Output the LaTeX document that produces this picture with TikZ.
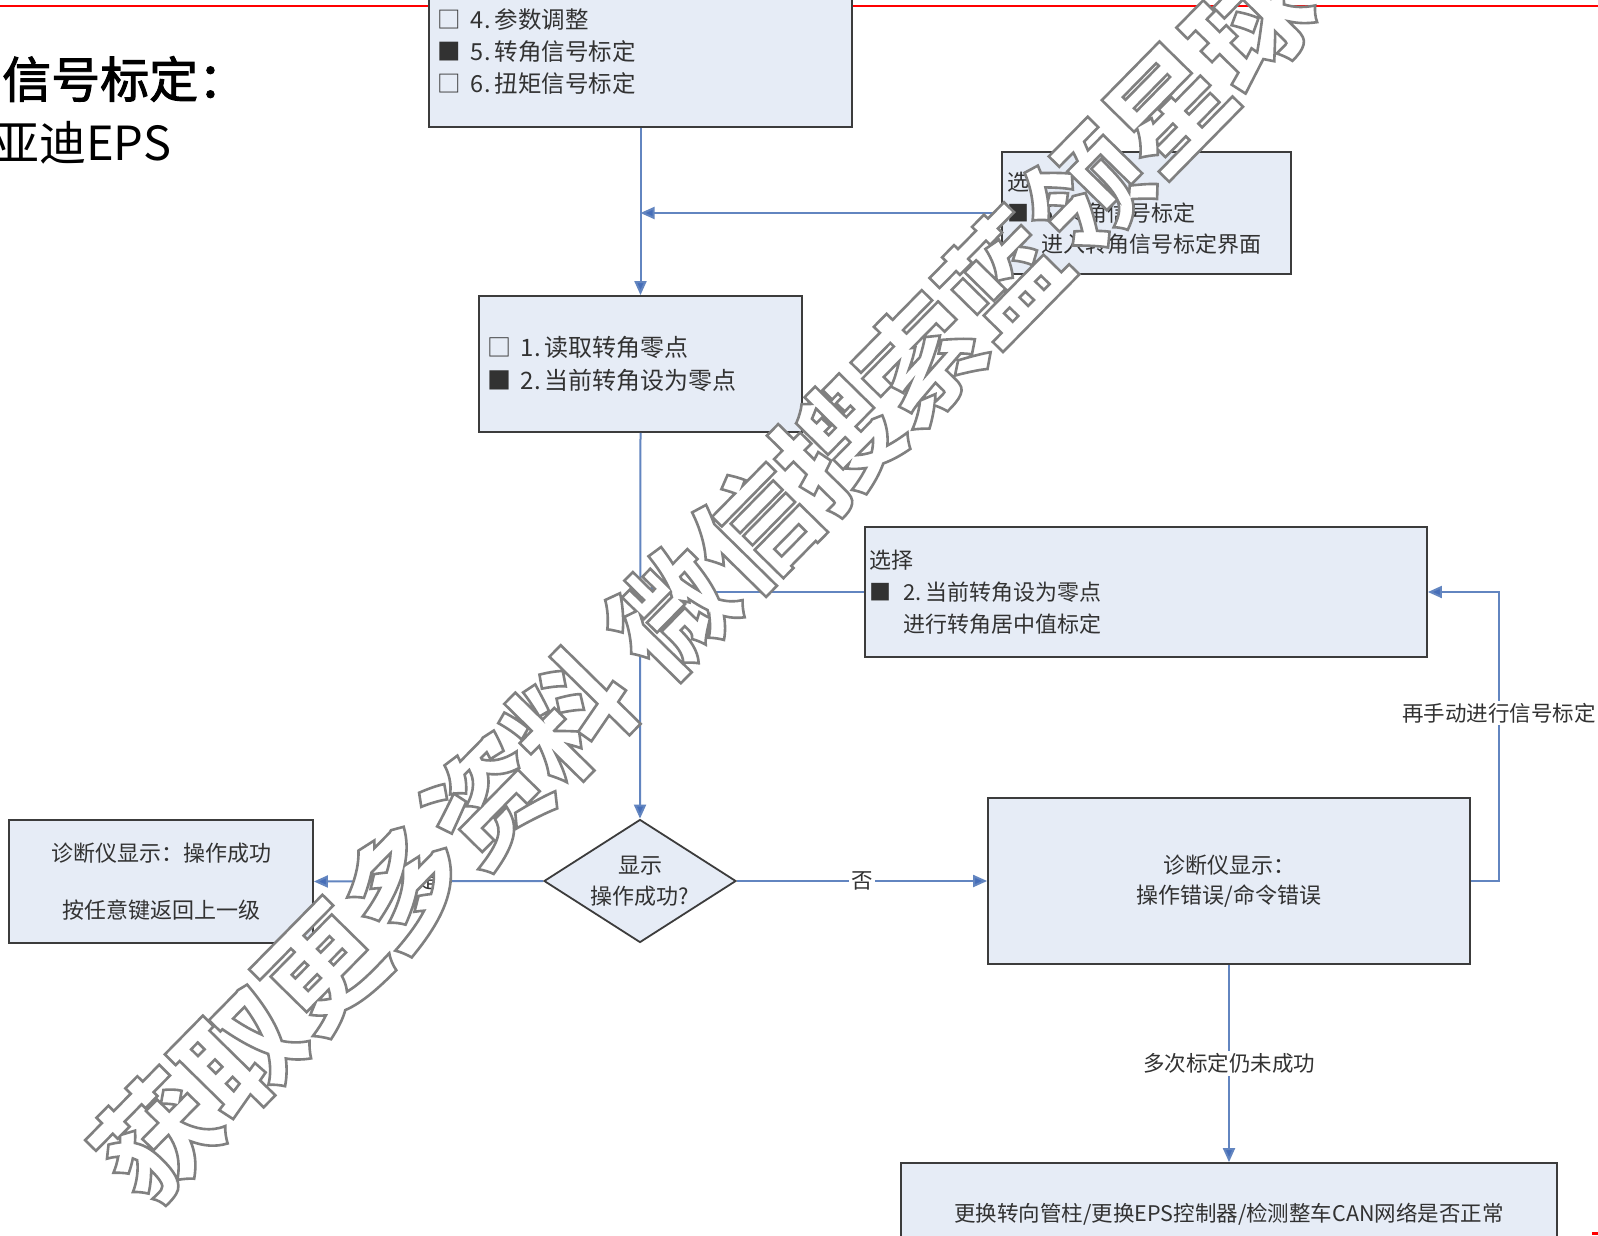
\documentclass[tikz,border=0pt]{standalone}
\usepackage{fontspec}
\setmainfont{Noto Sans CJK SC}
\newfontfamily\titlefont{Noto Sans CJK SC}[FakeBold=2]
\newfontfamily\titlefontb{Noto Sans CJK SC}
\usetikzlibrary{arrows.meta,shapes.geometric}
\definecolor{boxfill}{RGB}{230,236,246}
\definecolor{boxborder}{RGB}{60,60,60}
\definecolor{linec}{RGB}{98,133,192}
\definecolor{tipc}{RGB}{70,110,185}
\definecolor{txt}{RGB}{50,50,50}
\newcommand\bx[1]{\makebox[34pt][l]{#1}}
\newcommand\outlinetext[1]{\special{pdf:literal direct 2 Tr 2.6 w 0.5 G}#1}
\tikzset{
  box/.style={draw=boxborder, line width=1.8pt, fill=boxfill, text=txt, inner sep=0pt},
  conn/.style={draw=linec, line width=2pt, -{Triangle[length=14pt,width=12pt,fill=tipc]}},
  lbl/.style={fill=white, text=txt, font=\fontsize{21.5}{26}\selectfont, inner sep=2pt},
}
\begin{document}
\begin{tikzpicture}[x=1pt,y=-1pt]
\useasboundingbox (0,0) rectangle (1598,1236);
\fill[white] (0,0) rectangle (1598,1236);
% header
\draw[red, line width=1.5pt] (0,6) -- (1598,6);
\draw[red, line width=3pt] (1592,1233) -- (1598,1233);
\node[anchor=west, inner sep=0pt, font=\titlefont\fontsize{49}{50}\selectfont] (t1) at (2,79) {信号标定：};
\node[anchor=west, inner sep=0pt, font=\titlefontb\fontsize{47}{50}\selectfont] (t2) at (-8,143) {亚迪EPS};
% boxes
\node[box, minimum width=423pt, minimum height=151pt, text width=407pt, align=left,
      font=\fontsize{23.5}{31.6}\selectfont] (top) at (640.5,51.5)
  {\bx{□}4.\hspace{4pt}参数调整\\\bx{■}5.\hspace{4pt}转角信号标定\\\bx{□}6.\hspace{4pt}扭矩信号标定};
\node[box, minimum width=289pt, minimum height=122pt, text width=279pt, align=left,
      font=\fontsize{22}{31}\selectfont] (sel1) at (1146.5,213)
  {选择\\\bx{■}5.\hspace{4pt}转角信号标定\\\hspace*{34pt}进入转角信号标定界面};
\node[box, minimum width=323pt, minimum height=136pt, text width=307pt, align=left,
      font=\fontsize{24}{33}\selectfont] (zero) at (640.5,364)
  {\bx{□}1.\hspace{4pt}读取转角零点\\\bx{■}2.\hspace{4pt}当前转角设为零点};
\node[box, minimum width=562pt, minimum height=130pt, text width=554pt, align=left,
      font=\fontsize{22}{32}\selectfont] (sel2) at (1146,592)
  {选择\\\bx{■}2.\hspace{4pt}当前转角设为零点\\\hspace*{34pt}进行转角居中值标定};
\node[box, shape=diamond, aspect=1.56, minimum width=192pt, minimum height=123pt, align=center,
      font=\fontsize{22}{31}\selectfont] (dia) at (640,881)
  {显示\\操作成功?};
\node[box, minimum width=304pt, minimum height=123pt, align=center,
      font=\fontsize{22}{57}\selectfont] (ok) at (161,881.5)
  {诊断仪显示：操作成功\\按任意键返回上一级};
\node[box, minimum width=482pt, minimum height=166pt, align=center,
      font=\fontsize{22}{30}\selectfont] (err) at (1229,881)
  {诊断仪显示：\\操作错误/命令错误};
\node[box, minimum width=656pt, minimum height=102pt, align=center,
      font=\fontsize{21.5}{26}\selectfont] (fix) at (1229,1214)
  {更换转向管柱/更换EPS控制器/检测整车CAN网络是否正常};
% connectors
\draw[conn] (top.south) -- (zero.north);
\draw[conn] (sel1.west) -- (sel1.west -| top.south);
\draw[conn] (zero.south) -- (dia.north);
\draw[conn] (sel2.west) -- (sel2.west -| zero.south);
\draw[conn] (dia.west) -- node[lbl, pos=0.5] (yes) {是} (ok.east);
\draw[conn] (dia.east) -- node[lbl, pos=0.5] (no) {否} (err.west);
\draw[conn] (err.east) -- ++(28,0) |- node[lbl, pos=0.29] (again) {再手动进行信号标定} (sel2.east);
\draw[conn] (err.south) -- node[lbl, pos=0.5] (many) {多次标定仍未成功} (fix.north);
% watermark
\node[rotate=45.5, inner sep=0pt, text=white, font=\bfseries\fontsize{118}{120}\selectfont] (wm) at (704,580)
  {\outlinetext{获取更多资料 微信搜索蓝领星球}};
\end{tikzpicture}
\end{document}
